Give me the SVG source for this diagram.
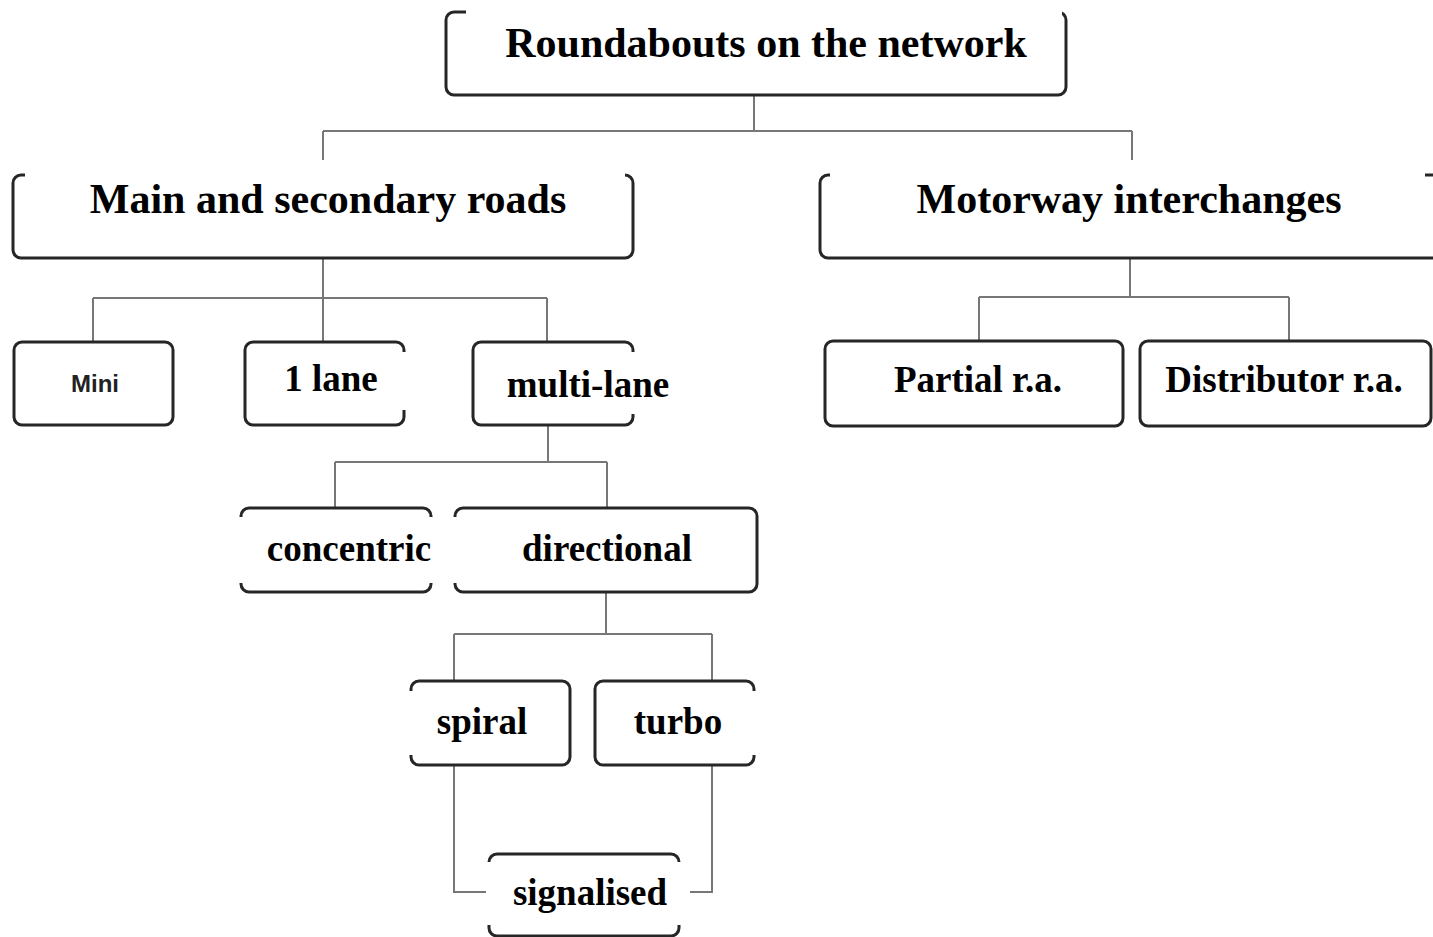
<svg xmlns="http://www.w3.org/2000/svg" width="1433" height="937" viewBox="0 0 1433 937">
<style>
.box{fill:#fff;stroke:#262626;stroke-width:3}
.mask{fill:#fff;stroke:none}
.t{font-family:"Liberation Serif","Times New Roman",serif;font-weight:bold;fill:#000;text-anchor:middle}
.h{font-size:42px}
.s{font-size:37px}
.sans{font-family:"Liberation Sans",Arial,sans-serif;font-weight:bold;font-size:24px;fill:#222;text-anchor:middle}
.c{fill:none;stroke:#777;stroke-width:2}
</style>
<rect width="1433" height="937" fill="#fff"/>
<g id="connectors">
<path class="c" d="M754 95V131M323 131H1132M323 131V160M1132 131V160"/>
<path class="c" d="M323 258V342M93 298H547M93 298V342M547 298V342"/>
<path class="c" d="M1130 258V297M979 297H1289M979 297V340M1289 297V340"/>
<path class="c" d="M548 425V462M335 462H607M335 462V508M607 462V508"/>
<path class="c" d="M606 592V634M454 634H712M454 634V681M712 634V681"/>
<path class="c" d="M454 765V892H490M712 765V892H690"/>
</g>
<g id="n-root">
<rect class="box" x="446" y="12" width="620" height="83" rx="8"/>
<rect class="mask" x="466" y="0" width="596" height="70"/>
<text class="t h" x="766" y="57">Roundabouts on the network</text>
</g>
<g id="n-main">
<rect class="box" x="13" y="175" width="620" height="83" rx="8"/>
<rect class="mask" x="25" y="165" width="600" height="65"/>
<text class="t h" x="328" y="213">Main and secondary roads</text>
</g>
<g id="n-motorway">
<rect class="box" x="820" y="175" width="640" height="83" rx="8"/>
<rect class="mask" x="830" y="165" width="595" height="65"/>
<text class="t h" x="1129" y="213">Motorway interchanges</text>
</g>
<g id="n-mini">
<rect class="box" x="14" y="342" width="159" height="83" rx="8"/>
<text class="sans" x="95" y="392">Mini</text>
</g>
<g id="n-1lane">
<rect class="box" x="245" y="342" width="159" height="83" rx="8"/>
<rect class="mask" x="270" y="352" width="137" height="58"/>
<text class="t s" x="331" y="391">1 lane</text>
</g>
<g id="n-multilane">
<rect class="box" x="473" y="342" width="160" height="83" rx="8"/>
<rect class="mask" x="495" y="352" width="180" height="62"/>
<text class="t s" x="588" y="397">multi-lane</text>
</g>
<g id="n-concentric">
<rect class="box" x="241" y="508" width="190" height="84" rx="8"/>
<rect class="mask" x="238" y="517" width="196" height="66"/>
<text class="t s" x="349" y="561">concentric</text>
</g>
<g id="n-directional">
<rect class="box" x="455" y="508" width="302" height="84" rx="8"/>
<rect class="mask" x="452" y="517" width="10" height="66"/>
<text class="t s" x="607" y="561">directional</text>
</g>
<g id="n-spiral">
<rect class="box" x="411" y="681" width="159" height="84" rx="8"/>
<rect class="mask" x="408" y="691" width="140" height="64"/>
<text class="t s" x="482" y="734">spiral</text>
</g>
<g id="n-turbo">
<rect class="box" x="595" y="681" width="159" height="84" rx="8"/>
<rect class="mask" x="620" y="691" width="137" height="64"/>
<text class="t s" x="678" y="734">turbo</text>
</g>
<g id="n-signalised">
<rect class="box" x="489" y="854" width="190" height="82" rx="8"/>
<rect class="mask" x="486" y="862" width="196" height="63"/>
<text class="t s" x="590" y="905">signalised</text>
</g>
<g id="n-partial">
<rect class="box" x="825" y="341" width="298" height="85" rx="8"/>
<text class="t s" x="978" y="392">Partial r.a.</text>
</g>
<g id="n-distributor">
<rect class="box" x="1140" y="341" width="291" height="85" rx="8"/>
<text class="t s" x="1284" y="392">Distributor r.a.</text>
</g>
</svg>
